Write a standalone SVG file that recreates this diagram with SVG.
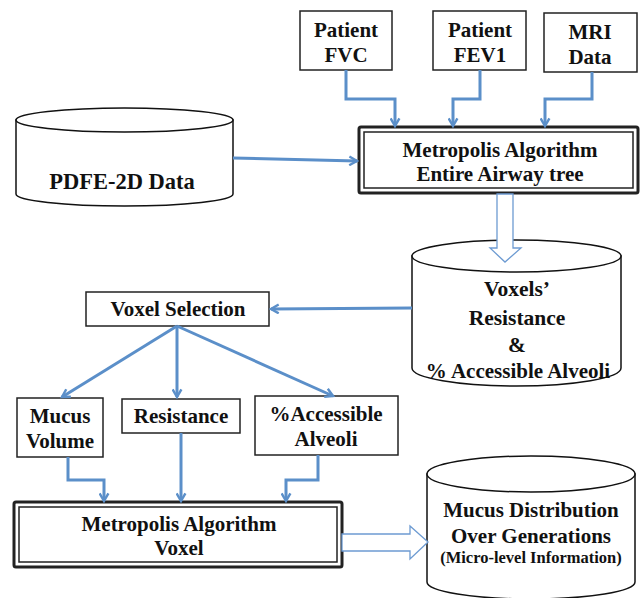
<svg xmlns="http://www.w3.org/2000/svg" width="640" height="598" viewBox="0 0 640 598">
<defs>
<style>
.box{fill:#fff;stroke:#222;stroke-width:1.5}
.outer{fill:#fff;stroke:#222;stroke-width:3}
.inner{fill:none;stroke:#222;stroke-width:1.5}
.cyl{fill:#fff;stroke:#111;stroke-width:1.5}
.t{font-family:"Liberation Serif","Times New Roman",serif;font-weight:bold;fill:#111;text-anchor:middle;font-size:21px}
.c{fill:none;stroke:#5b8fc9;stroke-width:3}
.h{fill:#fff;stroke:#6d9bd2;stroke-width:1.3}
</style>
<marker id="ah" viewBox="0 0 10 10" refX="8" refY="5" markerWidth="11" markerHeight="11" markerUnits="userSpaceOnUse" orient="auto">
<path d="M1,1 L8,5 L1,9" fill="none" stroke="#5b8fc9" stroke-width="2.2"/>
</marker>
</defs>

<g id="patient-fvc">
<rect class="box" x="300" y="11" width="92" height="59"/>
<text class="t" x="346" y="37">Patient</text>
<text class="t" x="346" y="62">FVC</text>
</g>
<g id="patient-fev1">
<rect class="box" x="433" y="11" width="93" height="59"/>
<text class="t" x="480" y="37">Patient</text>
<text class="t" x="480" y="62">FEV1</text>
</g>
<g id="mri-data">
<rect class="box" x="544" y="13" width="93" height="59"/>
<text class="t" x="590" y="39">MRI</text>
<text class="t" x="590" y="64">Data</text>
</g>

<g id="metropolis-airway">
<rect class="outer" x="359" y="127" width="279" height="66" rx="2"/>
<rect class="inner" x="364" y="132" width="269" height="56"/>
<text class="t" x="500" y="157">Metropolis Algorithm</text>
<text class="t" x="500" y="181">Entire Airway tree</text>
</g>

<g id="pdfe-data">
<path class="cyl" d="M16,120 L16,194 A108.5,12 0 0 0 233,194 L233,120 Z"/>
<ellipse class="cyl" cx="124.5" cy="120" rx="108.5" ry="12"/>
<text class="t" x="122" y="189" style="font-size:22.5px">PDFE-2D Data</text>
</g>

<g id="voxels-resistance">
<path class="cyl" d="M412,256 L412,368 A104.5,18 0 0 0 621,368 L621,256 Z"/>
<ellipse class="cyl" cx="516.5" cy="256" rx="104.5" ry="16"/>
<text class="t" x="517" y="296" style="font-size:21.5px">Voxels’</text>
<text class="t" x="517" y="325" style="font-size:21.5px">Resistance</text>
<text class="t" x="517" y="352" style="font-size:21.5px">&amp;</text>
<text class="t" x="518" y="378" style="font-size:21px">% Accessible Alveoli</text>
</g>

<g id="voxel-selection">
<rect class="box" x="86" y="292" width="183" height="34"/>
<text class="t" x="178" y="316">Voxel Selection</text>
</g>

<g id="mucus-volume">
<rect class="box" x="17" y="398" width="86" height="59"/>
<text class="t" x="60" y="423">Mucus</text>
<text class="t" x="60" y="448">Volume</text>
</g>
<g id="resistance">
<rect class="box" x="122" y="399" width="118" height="34"/>
<text class="t" x="181" y="423">Resistance</text>
</g>
<g id="accessible-alveoli">
<rect class="box" x="255" y="396" width="143" height="59"/>
<text class="t" x="326" y="421">%Accessible</text>
<text class="t" x="326" y="446">Alveoli</text>
</g>

<g id="metropolis-voxel">
<rect class="outer" x="14" y="502" width="328" height="65" rx="2"/>
<rect class="inner" x="19" y="507" width="318" height="55"/>
<text class="t" x="179" y="531">Metropolis Algorithm</text>
<text class="t" x="179" y="555">Voxel</text>
</g>

<g id="mucus-distribution">
<path class="cyl" d="M427,474 L427,582 A104,17 0 0 0 635,582 L635,474 Z"/>
<ellipse class="cyl" cx="531" cy="474" rx="104" ry="18"/>
<text class="t" x="531" y="517">Mucus Distribution</text>
<text class="t" x="531" y="543">Over Generations</text>
<text class="t" x="531" y="563" style="font-size:16.5px">(Micro-level Information)</text>
</g>

<g id="connectors">
<polyline class="c" points="346,70 346,99 395,99 395,126" marker-end="url(#ah)"/>
<polyline class="c" points="480,70 480,99 453,99 453,126" marker-end="url(#ah)"/>
<polyline class="c" points="592,72 592,99 545,99 545,126" marker-end="url(#ah)"/>
<polyline class="c" points="233,158 357,161" marker-end="url(#ah)"/>
<polyline class="c" points="412,308 271,309" marker-end="url(#ah)"/>
<polyline class="c" points="177,326 62,397" marker-end="url(#ah)"/>
<polyline class="c" points="177,326 177,397" marker-end="url(#ah)"/>
<polyline class="c" points="177,326 333,396" marker-end="url(#ah)"/>
<polyline class="c" points="68,457 68,480 104,480 104,501" marker-end="url(#ah)"/>
<polyline class="c" points="181,433 181,501" marker-end="url(#ah)"/>
<polyline class="c" points="318,455 318,480 286,480 286,501" marker-end="url(#ah)"/>
<polygon class="h" points="497,194 513,194 513,248 521,248 505,262 490,248 497,248"/>
<polygon class="h" points="342,534 410,534 410,526 428,542 410,559 410,551 342,551"/>
</g>
</svg>
